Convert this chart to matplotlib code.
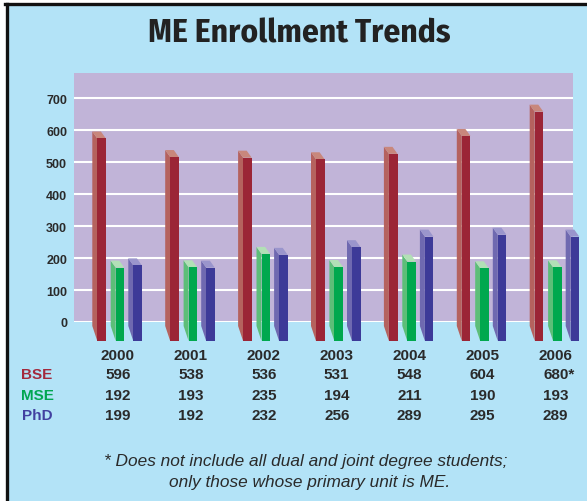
import matplotlib
matplotlib.use("Agg")
import matplotlib.pyplot as plt
from matplotlib.patches import Polygon
from matplotlib import transforms

# enrollment counts per year
years = ["2000", "2001", "2002", "2003", "2004", "2005", "2006"]
bse = [596, 538, 536, 531, 548, 604, 680]
mse = [192, 193, 235, 194, 211, 190, 193]
phd = [199, 192, 232, 256, 289, 295, 289]
bse_labels = ["596", "538", "536", "531", "548", "604", "680*"]
programs = ["BSE", "MSE", "PhD"]
yticks = [0, 100, 200, 300, 400, 500, 600, 700]

# (front, side, top) shades for each program
shades = {
    "BSE": ("#9b2536", "#b5625e", "#c8877c"),
    "MSE": ("#00a84e", "#5dbe78", "#b2e0b6"),
    "PhD": ("#3d3a98", "#6f69b0", "#9a95cc"),
}
label_colors = {"BSE": "#a3293d", "MSE": "#00a650", "PhD": "#4240a0"}

BG = "#b3e3f7"
PLOT_BG = "#c1b4d8"
TXT = "#2a2a2a"

W, H = 587, 502
fig = plt.figure(figsize=(W / 100, H / 100), dpi=100)
fig.patch.set_facecolor("white")

# light blue panel with a heavy black rule on top and left
panel = plt.Rectangle((6.5 / W, 0), 1, 1 - 5 / H, transform=fig.transFigure,
                      facecolor=BG, edgecolor="none", zorder=-10)
fig.patches.append(panel)
fig.add_artist(plt.Line2D([6.5 / W, 6.5 / W], [0, 1 - 5 / H], color="#111111",
                          lw=2.4, transform=fig.transFigure))
fig.add_artist(plt.Line2D([6.5 / W - 0.002, 1], [1 - 5 / H, 1 - 5 / H], color="#111111",
                          lw=2.4, transform=fig.transFigure))

fig.text(299 / W, 1 - 34 / H, "ME Enrollment Trends", ha="center", va="center",
         fontsize=24, fontweight="bold", family="Fira Sans Condensed", color="#222222")

# plot area in pixels
ax_l, ax_r, ax_t, ax_b = 74, 573, 74, 323
ax = fig.add_axes([ax_l / W, 1 - ax_b / H, (ax_r - ax_l) / W, (ax_b - ax_t) / H])
ax.set_facecolor(PLOT_BG)
for s in ax.spines.values():
    s.set_visible(False)

px_x = 72.9                      # pixels per year
center0 = 118                    # pixel x of the first group centre
ymax = 779
px_y = (ax_b - ax_t) / ymax      # pixels per student
ax.set_xlim(-(center0 - ax_l) / px_x, (ax_r - center0) / px_x)
ax.set_ylim(0, ymax)

ax.set_yticks(yticks)
ax.set_yticklabels([str(t) for t in yticks], fontsize=9, fontweight="bold",
                   color=TXT, family="Liberation Sans")
ax.tick_params(axis="y", length=0, pad=5)
ax.set_xticks([])
ax.yaxis.grid(True, color="white", lw=1.5)
ax.set_axisbelow(True)


def px2x(p):
    return p / px_x


def px2y(p):
    return p / px_y


# pseudo-3d bar geometry (pixels)
bar_w = 8.6
depth_dx = 5
top_drop = 7
back_base = -4
front_base = -19
offsets = {"BSE": -25.7, "MSE": -7.3, "PhD": 10.3}


def bar3d(xc, value, name):
    front, side, top = shades[name]
    x0 = xc + px2x(offsets[name])
    x1 = x0 + px2x(bar_w)
    dx = px2x(depth_dx)
    yt = value
    yft = value - px2y(top_drop)
    yb = px2y(back_base)
    yfb = px2y(front_base)
    polys = [
        ([(x0, yt), (x0, yb), (x0 + dx, yfb), (x0 + dx, yft)], side),
        ([(x0, yt), (x1, yt), (x1 + dx, yft), (x0 + dx, yft)], top),
        ([(x0 + dx, yfb), (x1 + dx, yfb), (x1 + dx, yft), (x0 + dx, yft)], front),
    ]
    for pts, c in polys:
        ax.add_patch(Polygon(pts, closed=True, facecolor=c, edgecolor="none",
                             clip_on=False, zorder=3))


for i in range(len(years)):
    bar3d(i, bse[i], "BSE")
    bar3d(i, mse[i], "MSE")
    bar3d(i, phd[i], "PhD")

# data table under the bars
tr = transforms.blended_transform_factory(ax.transData, fig.transFigure)
row_y = {"year": 355.5, "BSE": 375, "MSE": 396, "PhD": 416.5}
num_font = dict(fontsize=11, fontweight="bold", family="Liberation Sans",
                ha="center", va="center", color=TXT)
rows = {"BSE": bse_labels, "MSE": [str(v) for v in mse], "PhD": [str(v) for v in phd]}
for i, yr in enumerate(years):
    ax.text(i, 1 - row_y["year"] / H, yr, transform=tr, **num_font)
    for name in programs:
        lab = rows[name][i]
        # footnoted value: shift so the digits stay under the year
        xo = px2x(3.5) if lab.endswith("*") else 0
        ax.text(i + xo, 1 - row_y[name] / H, lab, transform=tr, **num_font)

for name in programs:
    fig.text(37 / W, 1 - row_y[name] / H, name, ha="center", va="center",
             fontsize=11, fontweight="bold", family="Liberation Sans",
             color=label_colors[name])

fig.text(306 / W, 1 - 462 / H,
         "* Does not include all dual and joint degree students;",
         ha="center", va="center", fontsize=12.4, style="italic",
         family="Liberation Sans", color=TXT)
fig.text(310 / W, 1 - 483 / H, "only those whose primary unit is ME.",
         ha="center", va="center", fontsize=12.4, style="italic",
         family="Liberation Sans", color=TXT)

fig.savefig("out.png", dpi=100, facecolor=fig.get_facecolor())
